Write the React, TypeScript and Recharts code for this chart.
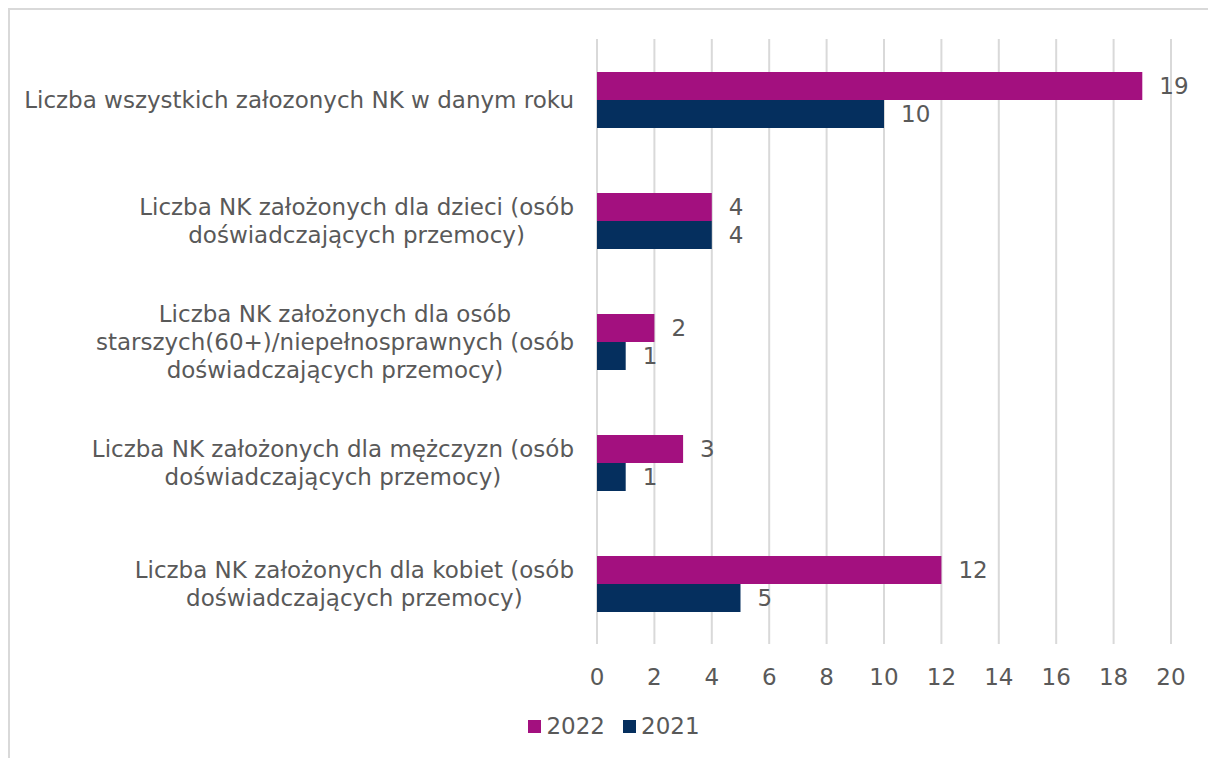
import React from 'react';
import { BarChart, Bar, XAxis, YAxis, CartesianGrid, LabelList } from 'recharts';

const categories = [
  'Liczba wszystkich załozonych NK w danym roku',
  'Liczba NK założonych dla dzieci (osób\ndoświadczających przemocy)',
  'Liczba NK założonych dla osób\nstarszych(60+)/niepełnosprawnych (osób\ndoświadczających przemocy)',
  'Liczba NK założonych dla mężczyzn (osób\ndoświadczających przemocy)',
  'Liczba NK założonych dla kobiet (osób\ndoświadczających przemocy)',
];
const values2022 = [19, 4, 2, 3, 12];
const values2021 = [10, 4, 1, 1, 5];
const xTicks = [0, 2, 4, 6, 8, 10, 12, 14, 16, 18, 20];

const FONT = '"DejaVu Sans", sans-serif';
const FONT_SIZE = 23;
const TEXT = '#595959';
const C2022 = '#A3107F';
const C2021 = '#052F5E';

const data = categories.map((name, i) => ({
  name,
  y2022: values2022[i],
  y2021: values2021[i],
}));

let canvasCtx: CanvasRenderingContext2D | null = null;
const measure = (s: string) => {
  if (!canvasCtx) {
    canvasCtx = document.createElement('canvas').getContext('2d');
  }
  if (!canvasCtx) return s.length * FONT_SIZE * 0.55;
  canvasCtx.font = `${FONT_SIZE}px "DejaVu Sans"`;
  return canvasCtx.measureText(s).width;
};

// multi-line labels, centred on their widest line, right edge at x=574
const CategoryTick = (props: any) => {
  const { y, payload } = props;
  const lines: string[] = String(payload.value).split('\n');
  const maxW = Math.max(...lines.map(measure));
  const cx = 574 - maxW / 2;
  const lh = 28;
  const startY = y - ((lines.length - 1) * lh) / 2;
  return (
    <text
      x={cx}
      y={startY}
      textAnchor="middle"
      dominantBaseline="central"
      fill={TEXT}
      fontSize={FONT_SIZE}
      fontFamily={FONT}
    >
      {lines.map((l, i) => (
        <tspan key={i} x={cx} y={startY + i * lh} dominantBaseline="central">
          {l}
        </tspan>
      ))}
    </text>
  );
};

const legendItems = [
  { label: '2022', color: C2022 },
  { label: '2021', color: C2021 },
];

export default function App() {
  return (
    <div
      style={{
        position: 'absolute',
        left: 0,
        top: 0,
        width: 1208,
        height: 758,
        overflow: 'hidden',
        background: '#fff',
      }}
    >
      <div
        style={{
          position: 'absolute',
          left: 8,
          top: 8,
          width: 1400,
          height: 1000,
          border: '2px solid #d9d9d9',
        }}
      />
      <div style={{ position: 'absolute', left: 0, top: 0 }}>
        <BarChart
          width={1208}
          height={758}
          data={data}
          layout="vertical"
          margin={{ top: 39, right: 37, bottom: 74, left: 0 }}
          barGap={0}
          barCategoryGap="27%"
        >
          <CartesianGrid horizontal={false} stroke="#d9d9d9" strokeWidth={2} />
          <XAxis
            type="number"
            domain={[0, 20]}
            ticks={xTicks}
            axisLine={false}
            tickLine={false}
            tickMargin={19}
            height={40}
            tick={{ fill: TEXT, fontSize: FONT_SIZE, fontFamily: FONT }}
          />
          <YAxis
            type="category"
            dataKey="name"
            width={597}
            axisLine={false}
            tickLine={false}
            interval={0}
            tick={<CategoryTick />}
          />
          <Bar dataKey="y2022" name="2022" fill={C2022} barSize={28} isAnimationActive={false}>
            <LabelList
              dataKey="y2022"
              position="right"
              offset={17}
              fill={TEXT}
              fontSize={FONT_SIZE}
              fontFamily={FONT}
            />
          </Bar>
          <Bar dataKey="y2021" name="2021" fill={C2021} barSize={28} isAnimationActive={false}>
            <LabelList
              dataKey="y2021"
              position="right"
              offset={17}
              fill={TEXT}
              fontSize={FONT_SIZE}
              fontFamily={FONT}
            />
          </Bar>
        </BarChart>
      </div>
      <div
        style={{
          position: 'absolute',
          top: 713,
          left: 0,
          width: 1228,
          display: 'flex',
          justifyContent: 'center',
          alignItems: 'center',
          fontFamily: FONT,
          fontSize: FONT_SIZE,
          color: TEXT,
        }}
      >
        {legendItems.map((it) => (
          <span key={it.label} style={{ display: 'flex', alignItems: 'center', margin: '0 9px' }}>
            <span style={{ width: 13, height: 13, background: it.color, marginRight: 5 }} />
            {it.label}
          </span>
        ))}
      </div>
    </div>
  );
}
